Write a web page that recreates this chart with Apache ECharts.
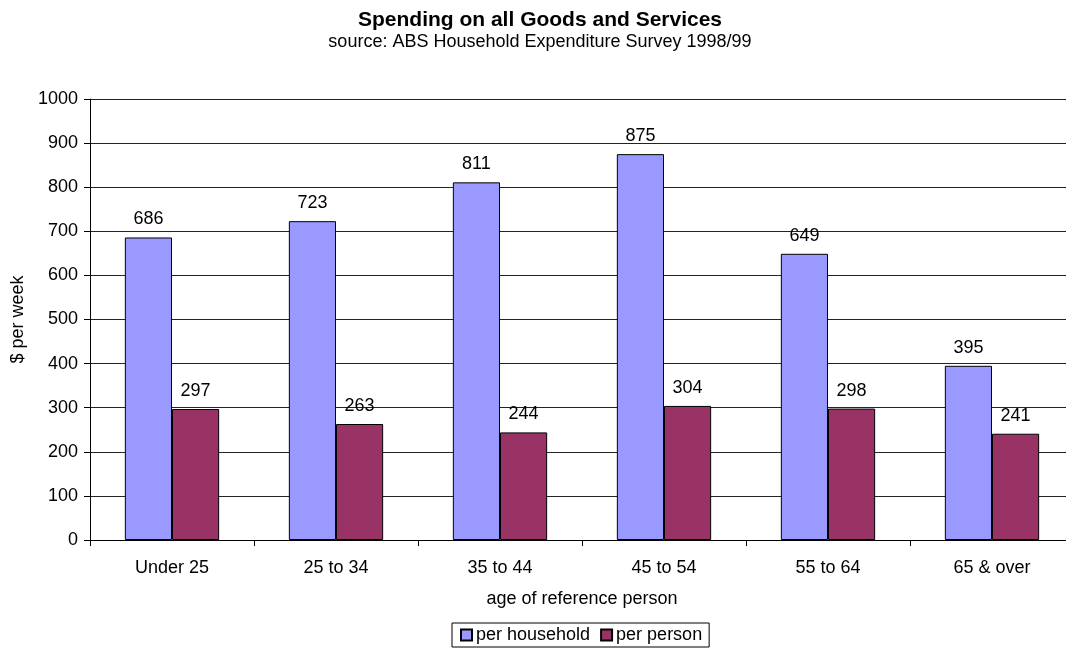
<!DOCTYPE html>
<html>
<head>
<meta charset="utf-8">
<script src="https://cdn.jsdelivr.net/npm/echarts@6/dist/echarts.min.js"></script>
<style>
  html, body { margin: 0; padding: 0; background: #fff; overflow: hidden; }
  /* the plot runs a few pixels past the right edge of the window */
  #chart { width: 1074px; height: 651px; }
</style>
</head>
<body>
<div id="chart"></div>
<script>
// Weekly spending by age group of the household reference person
const categories = ['Under 25', '25 to 34', '35 to 44', '45 to 54', '55 to 64', '65 & over'];
const perHousehold = [686, 723, 811, 875, 649, 395];
const perPerson = [297, 263, 244, 304, 298, 241];
const seriesNames = ['per household', 'per person'];

const FONT = '"Liberation Sans", Arial, sans-serif';

const chart = echarts.init(document.getElementById('chart'), null, { renderer: 'canvas' });

const labelStyle = {
  show: true,
  position: 'top',
  distance: 9,
  color: '#000',
  fontFamily: FONT,
  fontSize: 18
};

chart.setOption({
  animation: false,
  backgroundColor: '#fff',
  title: {
    text: 'Spending on all Goods and Services',
    subtext: 'source: ABS Household Expenditure Survey 1998/99',
    left: 535,
    textAlign: 'center',
    top: 5,
    itemGap: 2,
    textStyle: { fontFamily: FONT, fontSize: 21, fontWeight: 'bold', color: '#000' },
    subtextStyle: { fontFamily: FONT, fontSize: 18, color: '#000' }
  },
  legend: {
    data: seriesNames,
    left: 452,
    top: 623,
    padding: [3, 7, 3, 8],
    itemGap: 10,
    itemWidth: 11,
    itemHeight: 11,
    icon: 'rect',
    borderColor: '#000',
    borderWidth: 1,
    borderRadius: 0,
    textStyle: { fontFamily: FONT, fontSize: 18, color: '#000', padding: [0, 0, 0, -1] }
  },
  grid: {
    left: 90,
    right: 0,
    top: 99,
    bottom: 111,
    containLabel: false
  },
  xAxis: {
    type: 'category',
    data: categories,
    name: 'age of reference person',
    nameLocation: 'middle',
    nameGap: 50,
    nameTextStyle: { fontFamily: FONT, fontSize: 18, color: '#000' },
    axisLine: { lineStyle: { color: '#000', width: 1 } },
    axisTick: { show: true, length: 6, alignWithLabel: false, lineStyle: { color: '#000' } },
    axisLabel: { fontFamily: FONT, fontSize: 18, color: '#000', margin: 19 },
    splitLine: { show: false }
  },
  yAxis: {
    type: 'value',
    min: 0,
    max: 1000,
    interval: 100,
    name: '$ per week',
    nameLocation: 'middle',
    nameGap: 63,
    nameTextStyle: { fontFamily: FONT, fontSize: 18, color: '#000' },
    axisLine: { show: true, lineStyle: { color: '#000', width: 1 } },
    axisTick: { show: true, length: 6, lineStyle: { color: '#000' } },
    axisLabel: { fontFamily: FONT, fontSize: 18, color: '#000', margin: 12, formatter: v => String(v) },
    splitLine: { show: true, lineStyle: { color: '#222', width: 1 } }
  },
  series: [
    {
      name: seriesNames[0],
      type: 'bar',
      data: perHousehold,
      barGap: '0%',
      barCategoryGap: '42.5%',
      itemStyle: { color: '#9999FF', borderColor: '#000', borderWidth: 1 },
      label: labelStyle
    },
    {
      name: seriesNames[1],
      type: 'bar',
      data: perPerson,
      barGap: '0%',
      barCategoryGap: '42.5%',
      itemStyle: { color: '#993366', borderColor: '#000', borderWidth: 1 },
      label: labelStyle
    }
  ]
});
</script>
</body>
</html>
